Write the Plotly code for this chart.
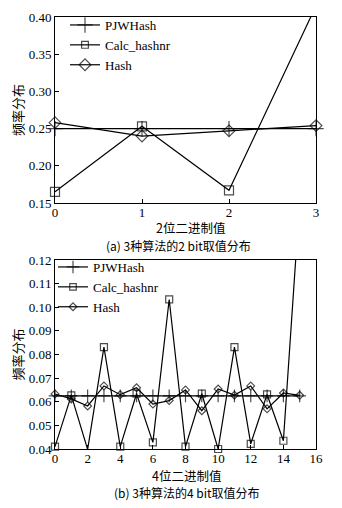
import numpy as np
import plotly.graph_objects as go

# ---------------- data ----------------
x2 = [0, 1, 2, 3]
pjw_2bit = [0.250, 0.250, 0.250, 0.250]
calc_2bit = [0.165, 0.253, 0.167, 0.415]
hash_2bit = [0.258, 0.240, 0.247, 0.254]

x4 = list(range(16))
pjw_4bit = [0.0625] * 16
calc_4bit = [0.041, 0.0627, 0.0398, 0.0831, 0.041, 0.0634, 0.0428, 0.1033,
             0.041, 0.0634, 0.0400, 0.0831, 0.0422, 0.0631, 0.0435, 0.145]
hash_4bit = [0.0633, 0.0612, 0.0582, 0.0667, 0.0630, 0.0659, 0.0590, 0.0605,
             0.0650, 0.0562, 0.0654, 0.0628, 0.0667, 0.0570, 0.0637, 0.0627]

y_range_top = [0.15, 0.40]
y_range_bot = [0.04, 0.12]
series_names = ["PJWHash", "Calc_hashnr", "Hash"]

FONT = "Liberation Serif"
CJK = "Noto Sans CJK SC"
W, H = 334, 500      # page has an 8px body margin
OFF = 8


def px(p):
    return (p - OFF) / W


def py(p):
    return 1 - (p - OFF) / H


fig = go.Figure()


def msize(vals, yr, s):
    v = np.asarray(vals)
    return np.where((v > yr[1] + 1e-9) | (v < yr[0] - 0.003), 0, s).tolist()


def add_set(xs, series, yr, xa, ya, legend, sizes):
    symbols = ["cross-thin-open", "square-open", "diamond-open"]
    for name, vals, sym, sz in zip(series_names, series, symbols, sizes):
        fig.add_trace(go.Scatter(
            x=xs, y=vals, name=name, mode="lines+markers",
            xaxis=xa, yaxis=ya, legend=legend, cliponaxis=False,
            line=dict(color="black", width=1.2),
            marker=dict(symbol=sym, size=msize(vals, yr, sz), color="black",
                        line=dict(color="black", width=1.2)),
        ))


add_set(x2, [pjw_2bit, calc_2bit, hash_2bit], y_range_top, "x", "y", "legend",
        [11, 9, 9])
add_set(x4, [pjw_4bit, calc_4bit, hash_4bit], y_range_bot, "x2", "y2", "legend2",
        [9, 7, 6])

xdom = [px(55), px(316)]
top_dom = [py(203), py(17)]
bot_dom = [py(449), py(260)]

axis_common = dict(showline=True, linecolor="black", linewidth=1, mirror=True,
                   ticks="inside", ticklen=4, tickcolor="black", showgrid=False,
                   zeroline=False, automargin=False,
                   tickfont=dict(family=FONT, size=13, color="black"))

ann_common = dict(xref="paper", yref="paper", showarrow=False,
                  xanchor="center", yanchor="middle")

fig.update_layout(
    template="none",
    width=W, height=H, margin=dict(l=0, r=0, t=0, b=0, pad=0),
    paper_bgcolor="white", plot_bgcolor="white",
    font=dict(family=FONT, color="black"),
    xaxis=dict(domain=xdom, range=[0, 3], tickvals=[0, 1, 2, 3], anchor="y",
               ticklabelstandoff=-3, **axis_common),
    yaxis=dict(domain=top_dom, range=y_range_top, tickvals=[0.15, 0.20, 0.25, 0.30, 0.35, 0.40],
               tickformat=".2f", anchor="x",
               title=dict(text="频率分布", font=dict(family=CJK, size=13), standoff=8),
               **axis_common),
    xaxis2=dict(domain=xdom, range=[0, 16], tickvals=list(range(0, 17, 2)), anchor="y2",
                ticklabelstandoff=-3, **axis_common),
    yaxis2=dict(domain=bot_dom, range=y_range_bot,
                tickvals=[0.04, 0.05, 0.06, 0.07, 0.08, 0.09, 0.10, 0.11, 0.12],
                tickformat=".2f", anchor="x2",
                title=dict(text="频率分布", font=dict(family=CJK, size=13), standoff=8),
                **axis_common),
    legend=dict(x=px(65), y=py(10), xanchor="left", yanchor="top",
                bgcolor="rgba(0,0,0,0)", font=dict(family=FONT, size=13),
                tracegroupgap=0, itemwidth=30),
    legend2=dict(x=px(53), y=py(252), xanchor="left", yanchor="top",
                 bgcolor="rgba(0,0,0,0)", font=dict(family=FONT, size=13),
                 tracegroupgap=0, itemwidth=30),
    annotations=[
        dict(text="2位二进制值", x=px(190), y=py(228), font=dict(family=CJK, size=12.5),
             **ann_common),
        dict(text="(a) 3种算法的2 bit取值分布", x=px(178), y=py(245),
             font=dict(family=CJK, size=12), **ann_common),
        dict(text="4位二进制值", x=px(186), y=py(475), font=dict(family=CJK, size=12.5),
             **ann_common),
        dict(text="(b) 3种算法的4 bit取值分布", x=px(186), y=py(492),
             font=dict(family=CJK, size=12), **ann_common),
    ],
)

fig.write_html("out.html")
